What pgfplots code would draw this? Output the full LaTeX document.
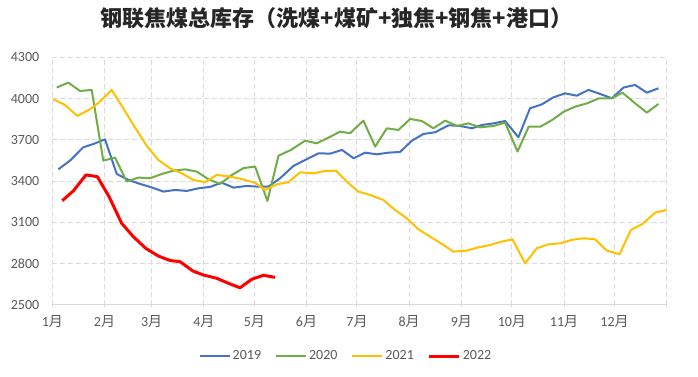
\documentclass[border=0pt]{standalone}
\usepackage{fontspec}
\setmainfont{Carlito}
\newfontfamily\cjk{Noto Sans CJK SC}
\usepackage{pgfplots}
\pgfplotsset{compat=1.18}
\definecolor{c19}{HTML}{4472C4}
\definecolor{c20}{HTML}{70AD47}
\definecolor{c21}{HTML}{FFC000}
\definecolor{c22}{HTML}{FF0000}
\definecolor{gridc}{HTML}{D9D9D9}
\definecolor{txt}{HTML}{595959}
\begin{document}
\begin{tikzpicture}[x=1pt,y=1pt]
\useasboundingbox (0,0) rectangle (698,377);
\begin{axis}[
  at={(52.3pt,72pt)}, anchor=south west,
  scale only axis, width=614.4pt, height=247.7pt,
  xmin=0, xmax=365, ymin=2500, ymax=4300,
  axis x line*=bottom, axis y line*=left,
  x axis line style={draw=gridc, line width=1pt},
  y axis line style={draw=none},
  xtick={0,31,59,90,120,151,181,212,243,273,304,334,365},
  xticklabels={1{\cjk 月},2{\cjk 月},3{\cjk 月},4{\cjk 月},5{\cjk 月},6{\cjk 月},7{\cjk 月},8{\cjk 月},9{\cjk 月},10{\cjk 月},11{\cjk 月},12{\cjk 月},{}},
  ytick={2500,2800,3100,3400,3700,4000,4300},
  grid=major,
  major grid style={gridc, line width=1pt, dash pattern=on 5pt off 3pt},
  tick align=center, major tick length=5pt,
  xtick style={draw=gridc, line width=1pt},
  ytick style={draw=none},
  /pgf/number format/assume math mode=true,
  /pgf/number format/1000 sep={},
  ticklabel style={font=\fontsize{14}{14}\selectfont, text=txt},
  xticklabel style={yshift=-4pt},
  yticklabel style={xshift=-7pt},
  legend columns=4,
  legend style={at={(0.478,-0.206)}, anchor=center, draw=none, fill=none,
    font=\fontsize{14}{14}\selectfont, text=txt,
    /tikz/every even column/.append style={column sep=12pt}},
  legend image code/.code={\draw[#1] (0pt,0pt) -- (30pt,0pt);},
  every axis plot/.append style={line join=round, no markers},
]
\addplot[c19, line width=2pt] coordinates {
(3.6,3486) (10.5,3549) (18.4,3646) (24.4,3670) (31.3,3704) (38.3,3452) (45.2,3409)
(52.1,3380) (59,3355) (66,3324) (72.9,3336) (79.9,3329) (86.8,3348) (93.7,3358)
(100.6,3389) (107.6,3353) (115.5,3365) (122.4,3360) (128.3,3360) (135.3,3421)
(143.2,3510) (150.2,3554) (158.1,3602) (165.1,3600) (172.1,3627) (179,3566)
(185.8,3607) (192.8,3595) (199.7,3607) (206.6,3612) (213.6,3694) (220.5,3743)
(227.4,3755) (235.4,3806) (242.3,3801) (249.3,3784) (255.2,3808) (262.1,3820)
(269,3837) (276.9,3719) (283.8,3929) (290.8,3958) (297.7,4009) (304.6,4038)
(311.6,4021) (318.5,4063) (325.4,4034) (332.4,4002) (339.3,4080) (346.2,4099)
(353.2,4043) (360.1,4075)
};
\addlegendentry{2019}
\addplot[c20, line width=2pt] coordinates {
(2.6,4080) (9.5,4116) (16.5,4055) (23.4,4063) (30.3,3549) (37.3,3571) (44.2,3397)
(51.2,3426) (58.1,3421) (65,3452) (72,3476) (78.9,3486) (85.9,3469) (92.8,3413)
(99.7,3380) (106.7,3445) (113.6,3495) (120.5,3506) (127.8,3256) (134.4,3585)
(141.8,3627) (150.2,3694) (157.1,3675) (164,3716) (171,3760) (176.9,3748)
(184.8,3840) (191.8,3651) (198.7,3784) (205.6,3772) (212.6,3852) (219.5,3837)
(226.4,3784) (233.4,3840) (240.3,3801) (247.2,3820) (254.1,3791) (262.1,3801)
(269,3825) (276.4,3615) (283,3796) (290,3796) (297,3845) (303.9,3905)
(310.8,3942) (317.8,3966) (324.7,4002) (332.4,4002) (338.7,4043) (346.2,3966)
(353.2,3898) (360.1,3961)
};
\addlegendentry{2020}
\addplot[c21, line width=2pt] coordinates {
(0.6,3995) (7.5,3954) (14.9,3874) (22.4,3922) (28.3,3978) (35.3,4063) (42.2,3929)
(49.1,3791) (56.1,3656) (63,3554) (70,3493) (76.9,3457) (83.8,3409) (90.7,3392)
(97.7,3445) (105.6,3433) (111.5,3418) (120.4,3389) (126.4,3336) (133.3,3377)
(140.2,3392) (147.2,3464) (155.1,3457) (162.1,3474) (168.6,3476) (174.9,3397)
(181.8,3324) (188.8,3300) (196.7,3263) (203.6,3191) (210.6,3130) (217.5,3050)
(224.4,2997) (231.4,2944) (238.3,2888) (246.2,2895) (253.1,2919) (260.1,2936)
(267,2961) (273.4,2977) (280.9,2803) (287.8,2912) (294.8,2941) (301.7,2948)
(308.6,2973) (315.6,2985) (322.5,2977) (329.4,2895) (337,2869) (343.7,3045)
(350.6,3089) (358.1,3171) (365,3191)
};
\addlegendentry{2021}
\addplot[c22, line width=3pt] coordinates {
(5.9,3258) (12.5,3329) (20,3445) (26.7,3433) (33.7,3288) (41.2,3094) (48.1,2997)
(55.5,2912) (63,2856) (70,2823) (75.9,2815) (83.5,2747) (89.8,2718) (97.7,2694)
(104.6,2658) (111.5,2625) (118.5,2687) (125.4,2716) (132.3,2701)
};
\addlegendentry{2022}
\end{axis}
\node[font=\cjk\bfseries\fontsize{22}{22}\selectfont, text=black!85] at (336.5,359) {钢联焦煤总库存（洗煤+煤矿+独焦+钢焦+港口）};
\end{tikzpicture}
\end{document}
